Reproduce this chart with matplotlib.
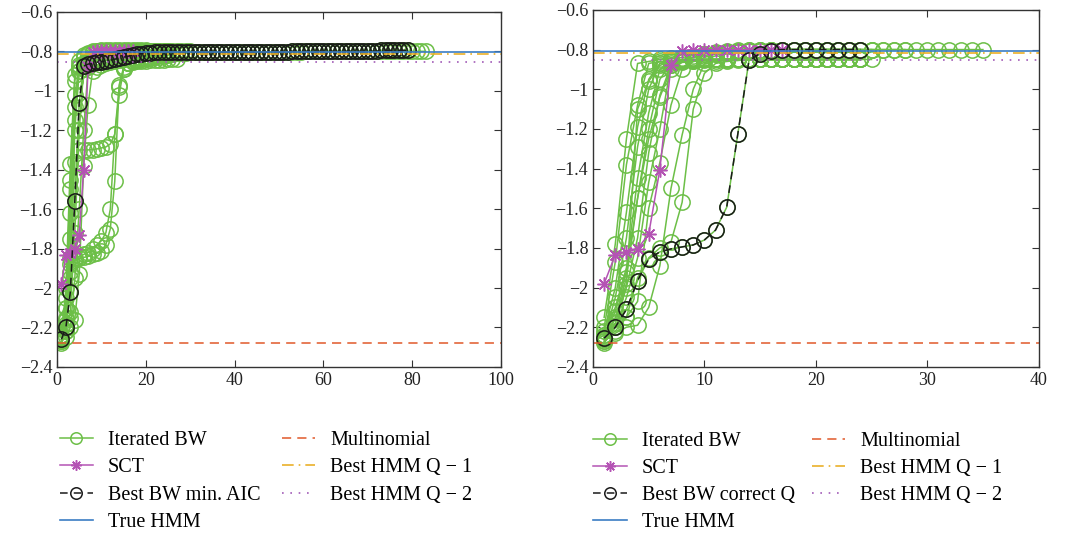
import matplotlib
matplotlib.use("Agg")
import matplotlib.pyplot as plt

plt.rcParams['font.family'] = ['Liberation Serif', 'DejaVu Serif']

# ---- left panel data (log-likelihood per iteration, x = 1..n) ----
left_sct = [-1.98, -1.835, -1.82, -1.80, -1.73, -1.40, -0.88, -0.805, -0.80, -0.80,
            -0.80, -0.80, -0.80, -0.80, -0.80, -0.80, -0.80]
left_best = [-2.26, -2.20, -2.02, -1.56, -1.06, -0.875, -0.865, -0.86, -0.855, -0.852,
             -0.848, -0.845, -0.84, -0.835, -0.83, -0.825, -0.82, -0.815, -0.812, -0.81,
             -0.808, -0.806, -0.805, -0.805, -0.805, -0.805, -0.805, -0.805, -0.805, -0.805,
             -0.805, -0.805, -0.805, -0.805, -0.805, -0.805, -0.805, -0.805, -0.805, -0.805,
             -0.805, -0.805, -0.805, -0.805, -0.805, -0.805, -0.805, -0.805, -0.805, -0.805,
             -0.805, -0.805, -0.80, -0.80, -0.80, -0.80, -0.80, -0.80, -0.80, -0.80,
             -0.80, -0.80, -0.80, -0.80, -0.80, -0.80, -0.80, -0.80, -0.80, -0.80,
             -0.80, -0.80, -0.795, -0.795, -0.795, -0.795, -0.795, -0.795, -0.795]
left_bw = [
    [-2.27, -2.22, -1.95, -1.20, -0.90, -0.86, -0.85, -0.845, -0.84, -0.835,
     -0.83, -0.825, -0.82, -0.818, -0.815, -0.812, -0.81, -0.81, -0.808, -0.806,
     -0.805, -0.805, -0.805, -0.805, -0.805, -0.805, -0.805, -0.805, -0.805, -0.805,
     -0.805, -0.805, -0.805, -0.805, -0.805, -0.805, -0.805, -0.805, -0.805, -0.805,
     -0.805, -0.805, -0.805, -0.805, -0.805, -0.805, -0.805, -0.805, -0.805, -0.805,
     -0.805, -0.805, -0.805, -0.805, -0.805, -0.80, -0.80, -0.80, -0.80, -0.80,
     -0.80, -0.80, -0.80, -0.80, -0.80, -0.80, -0.80, -0.80, -0.80, -0.80,
     -0.80, -0.80, -0.80, -0.80, -0.80, -0.80, -0.80, -0.80, -0.80, -0.80,
     -0.80, -0.80, -0.80],
    [-2.25, -2.10, -1.85, -1.36, -1.30, -1.30, -1.30, -1.298, -1.295, -1.29,
     -1.285, -1.27, -1.22, -0.98, -0.89, -0.86, -0.855, -0.85, -0.85, -0.848,
     -0.846, -0.845, -0.843, -0.842, -0.84, -0.84, -0.838],
    [-2.26, -2.20, -1.92, -1.86, -1.85, -1.845, -1.84, -1.83, -1.82, -1.81,
     -1.78, -1.70, -1.46, -0.97, -0.88, -0.86, -0.85, -0.845, -0.84, -0.835,
     -0.83, -0.825, -0.82, -0.82, -0.815, -0.815, -0.81, -0.81, -0.81, -0.805],
    [-2.24, -2.15, -1.88, -1.85, -1.84, -1.83, -1.82, -1.80, -1.78, -1.76,
     -1.72, -1.60, -1.22, -1.02, -0.89, -0.86, -0.85, -0.845, -0.84, -0.84,
     -0.835, -0.83, -0.83, -0.825, -0.82],
    [-2.25, -2.00, -1.37, -0.92, -0.87, -0.86, -0.855, -0.85, -0.845, -0.84,
     -0.835, -0.83, -0.825, -0.82, -0.815, -0.81, -0.81, -0.805, -0.805, -0.80],
    [-2.27, -2.10, -1.50, -1.02, -0.88, -0.865, -0.855, -0.85, -0.845, -0.84,
     -0.835, -0.83, -0.825, -0.82, -0.815, -0.81, -0.81, -0.805, -0.805, -0.80,
     -0.80, -0.80],
    [-2.24, -2.16, -1.62, -1.08, -0.90, -0.87, -0.86, -0.855, -0.85, -0.845,
     -0.84, -0.835, -0.83, -0.825, -0.82, -0.815, -0.81, -0.81],
    [-2.28, -2.22, -2.12, -1.72, -1.20, -0.89, -0.87, -0.86, -0.855, -0.85,
     -0.845, -0.84, -0.835, -0.83, -0.825, -0.82, -0.815, -0.81, -0.81, -0.805,
     -0.805, -0.80, -0.80, -0.80, -0.80],
    [-2.26, -2.20, -2.15, -2.16, -1.93, -1.38, -1.07, -0.90, -0.88, -0.87,
     -0.86, -0.855, -0.85, -0.845, -0.84, -0.84, -0.835, -0.83],
    [-2.27, -2.25, -2.20, -1.95, -1.60, -1.20, -0.88, -0.86, -0.85, -0.845,
     -0.84, -0.835, -0.83, -0.825, -0.82, -0.82, -0.815, -0.81, -0.81, -0.805],
    [-2.25, -2.05, -1.45, -0.95, -0.85, -0.82, -0.81, -0.80, -0.80, -0.795,
     -0.795, -0.795, -0.795, -0.795, -0.795, -0.795, -0.795, -0.795, -0.795, -0.795],
    [-2.26, -2.18, -1.75, -1.15, -0.88, -0.83, -0.815, -0.805, -0.80, -0.80,
     -0.80, -0.80, -0.80, -0.80, -0.80, -0.80, -0.80, -0.80, -0.80, -0.80,
     -0.80, -0.80, -0.80, -0.80, -0.80, -0.80, -0.80, -0.80, -0.80, -0.80],
]

# ---- right panel data ----
right_sct = [-1.98, -1.835, -1.82, -1.805, -1.73, -1.405, -0.88, -0.805, -0.80, -0.80,
             -0.80, -0.80, -0.80, -0.80, -0.80, -0.80, -0.80]
right_best = [-2.255, -2.20, -2.11, -1.965, -1.855, -1.82, -1.805, -1.795, -1.785, -1.76,
              -1.71, -1.595, -1.225, -0.855, -0.82, -0.805, -0.80, -0.80, -0.80, -0.80,
              -0.80, -0.80, -0.80, -0.80]
right_bw = [
    [-2.15, -1.78, -1.25, -0.87, -0.86, -0.85, -0.845, -0.84, -0.83, -0.82,
     -0.815, -0.81, -0.81, -0.805, -0.805, -0.80, -0.80, -0.80, -0.80, -0.80,
     -0.80, -0.80, -0.80, -0.80, -0.80, -0.80, -0.80, -0.80, -0.80, -0.80,
     -0.80, -0.80, -0.80, -0.80, -0.80],
    [-2.20, -1.87, -1.38, -1.08, -0.87, -0.86, -0.855, -0.85, -0.85, -0.85,
     -0.85, -0.85, -0.85, -0.85, -0.85, -0.85, -0.85, -0.85, -0.85, -0.85,
     -0.85, -0.85, -0.85, -0.85, -0.85],
    [-2.22, -2.00, -1.62, -1.19, -0.95, -0.87, -0.86, -0.85, -0.84, -0.83,
     -0.82, -0.815, -0.81, -0.805, -0.80, -0.80, -0.80, -0.80, -0.80, -0.80,
     -0.80, -0.80, -0.80, -0.80, -0.80, -0.80, -0.80, -0.80],
    [-2.25, -2.05, -1.75, -1.29, -1.00, -0.87, -0.86, -0.855, -0.855, -0.85,
     -0.85, -0.85, -0.85, -0.85, -0.85, -0.85, -0.85, -0.85, -0.85, -0.85,
     -0.85, -0.85, -0.85, -0.85],
    [-2.24, -2.10, -1.90, -1.45, -1.12, -0.90, -0.86, -0.855, -0.85, -0.85,
     -0.85, -0.85, -0.85, -0.85, -0.85, -0.85, -0.85, -0.85, -0.85, -0.85],
    [-2.27, -2.15, -1.95, -1.55, -1.20, -0.95, -0.87, -0.86, -0.84, -0.82,
     -0.81, -0.805, -0.80, -0.80, -0.80, -0.80, -0.80, -0.80, -0.80, -0.80,
     -0.80, -0.80, -0.80, -0.80, -0.80],
    [-2.26, -2.18, -2.00, -1.75, -1.32, -1.03, -0.88, -0.86, -0.855, -0.85,
     -0.85, -0.85, -0.85, -0.85, -0.85, -0.85, -0.85, -0.85, -0.85, -0.85,
     -0.85],
    [-2.28, -2.20, -2.05, -1.85, -1.47, -1.20, -0.88, -0.86, -0.855, -0.85,
     -0.85, -0.85, -0.85, -0.85, -0.85, -0.85, -0.85, -0.85, -0.85, -0.85,
     -0.85, -0.85, -0.85, -0.85],
    [-2.26, -2.22, -2.15, -2.07, -1.60, -1.37, -1.08, -0.90, -0.86, -0.84,
     -0.82, -0.81, -0.805, -0.80, -0.80, -0.80, -0.80, -0.80, -0.80, -0.80,
     -0.80, -0.80, -0.80, -0.80],
    [-2.27, -2.23, -2.20, -2.19, -2.10, -1.89, -1.50, -1.23, -1.00, -0.87,
     -0.86, -0.855, -0.85, -0.85, -0.85, -0.85, -0.85, -0.85, -0.85, -0.85,
     -0.85, -0.85, -0.85, -0.85],
    [-2.26, -2.20, -2.15, -1.95, -1.85, -1.80, -1.77, -1.57, -1.10, -0.92,
     -0.87, -0.86, -0.855, -0.85, -0.85, -0.85, -0.85, -0.85, -0.85, -0.85,
     -0.85, -0.85, -0.85, -0.85],
    [-2.24, -2.16, -1.98, -1.10, -0.96, -0.88, -0.86, -0.855, -0.85, -0.85,
     -0.85, -0.85, -0.85, -0.85, -0.85, -0.85, -0.85, -0.85, -0.85, -0.85],
    [-2.25, -2.12, -1.92, -1.55, -1.25, -1.04, -0.90, -0.865, -0.86, -0.855,
     -0.85, -0.85, -0.85, -0.85, -0.85, -0.85, -0.85, -0.85, -0.85, -0.85,
     -0.85, -0.85, -0.85, -0.85],
]

# reference levels
true_hmm = -0.805
best_q1 = -0.815
best_q2 = -0.855
multinomial = -2.28

green = '#6cbf47'
magenta = '#b453b4'
blue = '#3b7dc4'
orange = '#e0592a'
yellow = '#eab02a'
purple = '#a25bb7'


def panel(ax, bw_runs, sct, best, best_label, xmax, xticks, leg_x, colsp):
    for i, run in enumerate(bw_runs + [best]):
        ax.plot(range(1, len(run) + 1), run, color=green, lw=1.1, marker='o',
                ms=11, mfc='none', mec=green, mew=1.1,
                label='Iterated BW' if i == 0 else None)
    ax.plot(range(1, len(sct) + 1), sct, color=magenta, lw=1.1,
            marker=(8, 2, 0), ms=10, mew=1.1, label='SCT')
    ax.plot(range(1, len(best) + 1), best, color='#1a1a1a', lw=1.1, ls=(0, (5, 4)),
            marker='o', ms=11, mfc='none', mec='#1a1a1a', mew=1.1, label=best_label)
    ax.axhline(true_hmm, color=blue, lw=1.2, label='True HMM')
    ax.axhline(multinomial, color=orange, lw=1.1, ls=(0, (6, 4)), label='Multinomial')
    ax.axhline(best_q1, color=yellow, lw=1.2, ls=(0, (7, 3, 1, 3)), label='Best HMM Q \u2212 1')
    ax.axhline(best_q2, color=purple, lw=1.2, ls=(0, (1, 4)), label='Best HMM Q \u2212 2')

    ax.set_xlim(0, xmax)
    ax.set_ylim(-2.4, -0.6)
    ax.set_xticks(xticks)
    yt = [-2.4, -2.2, -2.0, -1.8, -1.6, -1.4, -1.2, -1.0, -0.8, -0.6]
    ax.set_yticks(yt)
    ax.set_yticklabels([('%g' % v).replace('-', '\u2212') for v in yt])
    ax.tick_params(direction='in', top=True, right=True, length=5, labelsize=13,
                   colors='#333333', labelcolor='#222222')
    for s in ax.spines.values():
        s.set_color('#333333')
        s.set_linewidth(1.0)

    h, l = ax.get_legend_handles_labels()
    order = ['Iterated BW', 'SCT', best_label, 'True HMM',
             'Multinomial', 'Best HMM Q \u2212 1', 'Best HMM Q \u2212 2']
    hs = [h[l.index(o)] for o in order]
    ax.legend(hs, order, loc='upper left', bbox_to_anchor=(leg_x, -0.13), ncol=2,
              frameon=False, fontsize=14.5, handlelength=1.65, markerscale=0.75,
              columnspacing=colsp, labelspacing=0.4, handletextpad=0.75)


fig = plt.figure(figsize=(10.66, 5.38), dpi=100)
ax1 = fig.add_axes([0.0535, 0.318, 0.4165, 0.66])
ax2 = fig.add_axes([0.5563, 0.318, 0.418, 0.6636])

panel(ax1, left_bw, left_sct, left_best, 'Best BW min. AIC', 100, [0, 20, 40, 60, 80, 100], -0.035, 1.05)
panel(ax2, right_bw, right_sct, right_best, 'Best BW correct Q', 40, [0, 10, 20, 30, 40], -0.04, 0.85)

fig.savefig('out.png', dpi=100)
